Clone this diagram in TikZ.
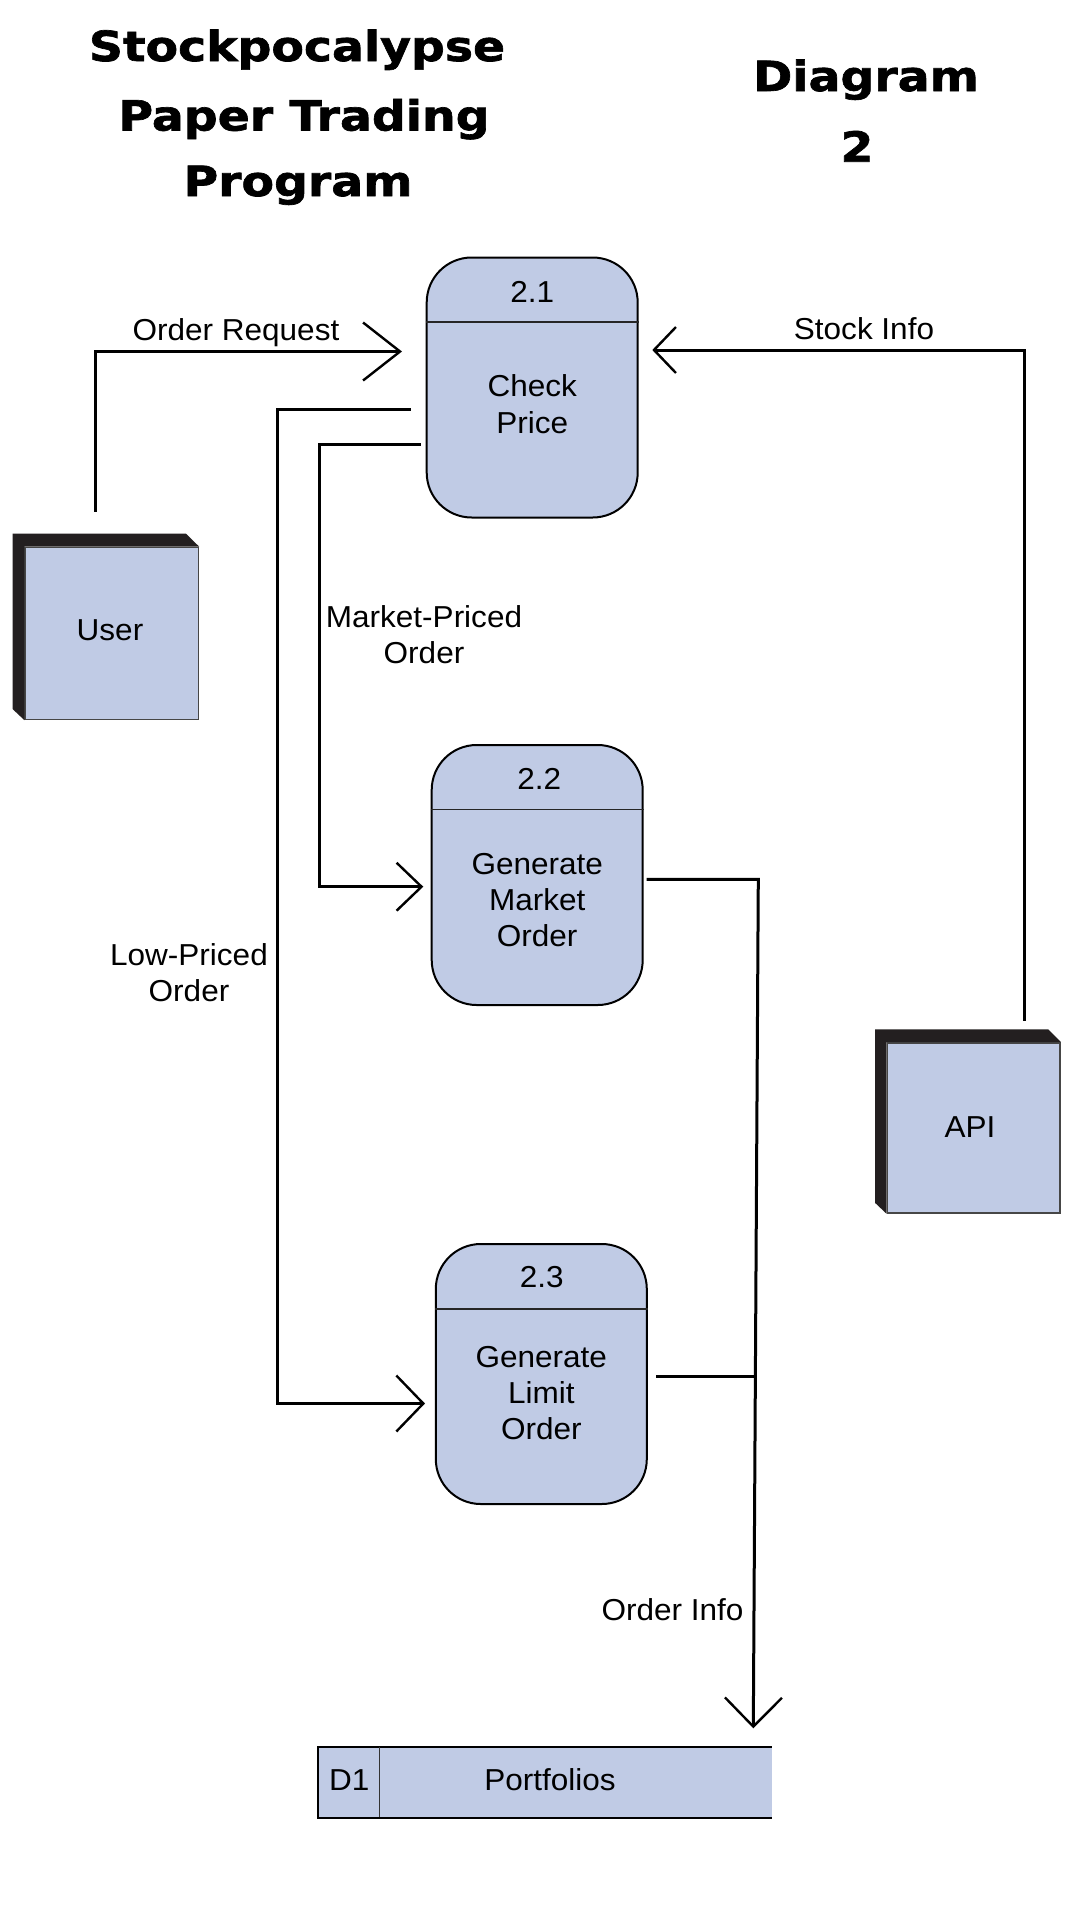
\documentclass[tikz,border=0pt]{standalone}
\usepackage{fontspec}
\setmainfont{Liberation Sans}[FakeStretch=1.04]
\newfontfamily\titlefont{DejaVu Sans Bold}[FakeStretch=1.14, FakeBold=1.6]
\usetikzlibrary{arrows.meta}
\definecolor{procfill}{RGB}{192,203,229}
\definecolor{extdark}{RGB}{35,31,32}
\definecolor{facebord}{RGB}{70,70,70}
\tikzset{
  txt/.style={inner sep=0pt, font=\fontsize{30.3}{36.3}\selectfont, align=center},
  ttl/.style={inner sep=0pt, anchor=base, font=\titlefont\fontsize{41.5}{48}\selectfont},
  proc/.style={draw=black, line width=2pt, fill=procfill, rounded corners=45pt,
    minimum width=211pt, minimum height=260pt, inner sep=0pt},
  divider/.style={line width=1.5pt, draw=black!85},
  extface/.style={draw=facebord, line width=1.5pt, fill=procfill, inner sep=0pt},
  flow/.style={line width=3pt, line join=miter},
}
\begin{document}
\begin{tikzpicture}[x=1pt,y=-1pt]
\useasboundingbox[fill=white] (0,0) rectangle (1080,1920);

% titles
\node[ttl] (t1) at (297,61) {Stockpocalypse};
\node[ttl] (t2) at (304,130.5) {Paper Trading};
\node[ttl] (t3) at (298,196) {Program};
\node[ttl] (t4) at (866,91) {Diagram};
\node[ttl] (t5) at (857,161.7) {2};

% processes
\node[proc] (p1) at (532.2,387.5) {};
\draw[divider] (p1.west |- 0,322) -- (p1.east |- 0,322);
\node[txt] (p1n) at (532.2,291.7) {2.1};
\node[txt] (p1t) at (532.2,404.2) {Check\\Price};

\node[proc] (p2) at (537.2,875) {};
\draw[divider] (p2.west |- 0,809.3) -- (p2.east |- 0,809.3);
\node[txt] (p2n) at (539.3,779.3) {2.2};
\node[txt] (p2t) at (537.2,900) {Generate\\Market\\Order};

\node[proc] (p3) at (541.3,1374) {};
\draw[divider] (p3.west |- 0,1309) -- (p3.east |- 0,1309);
\node[txt] (p3n) at (541.7,1276.7) {2.3};
\node[txt] (p3t) at (541.3,1393) {Generate\\Limit\\Order};

% external entities
\node[extface, minimum width=173.3pt, minimum height=172pt] (user) at (111.7,633.3) {};
\fill[extdark] ([xshift=-11.7pt,yshift=13pt]user.north west)
  -- ([xshift=-13.3pt,yshift=13pt]user.north east) -- (user.north east)
  -- (user.north west) -- (user.south west)
  -- ([xshift=-11.7pt,yshift=11pt]user.south west) -- cycle;
\node[txt, anchor=base] (usert) at (110,640.8) {User};

\node[extface, minimum width=172.7pt, minimum height=170.3pt] (api) at (973.7,1127.9) {};
\fill[extdark] ([xshift=-11.6pt,yshift=12.7pt]api.north west)
  -- ([xshift=-12.7pt,yshift=12.7pt]api.north east) -- (api.north east)
  -- (api.north west) -- (api.south west)
  -- ([xshift=-11.6pt,yshift=11pt]api.south west) -- cycle;
\node[txt, anchor=base] (apit) at (970,1137.5) {API};

% data store
\node[fill=procfill, minimum width=453.4pt, minimum height=70.6pt, inner sep=0pt] (d1) at (545,1782) {};
\draw[line width=2pt] (d1.north east) -- (d1.north west) -- (d1.south west) -- (d1.south east);
\draw[line width=1.4pt, draw=black!80] (379.3,1746.7) -- (379.3,1817.3);
\node[txt, anchor=base] (d1n) at (349.3,1790.8) {D1};
\node[txt, anchor=base] (d1t) at (550,1790.8) {Portfolios};

% connectors
\coordinate (orS) at (95.3,511.7);
\coordinate (orE) at (402,351.5);
\draw[flow, -{Straight Barb[length=37pt, width=58pt, line width=2.4pt]}] (orS) |- (orE);
\node[txt, anchor=base] (orL) at (236,340.8) {Order Request};

\coordinate (siS) at (1024.3,1020.7);
\coordinate (siE) at (652.3,350);
\draw[flow, -{Straight Barb[length=22pt, width=46pt, line width=2.4pt]}] (siS) |- (siE);
\node[txt, anchor=base] (siL) at (864,339.8) {Stock Info};

\coordinate (mpS) at (420.7,444.3);
\coordinate (mpC) at (319,444.3);
\coordinate (mpE) at (423.3,886.7);
\draw[flow, -{Straight Barb[length=25pt, width=48pt, line width=2.4pt]}] (mpS) -- (mpC) |- (mpE);
\node[txt] (mpL) at (424,635) {Market-Priced\\Order};

\coordinate (lpS) at (410.7,409);
\coordinate (lpC) at (277,409);
\coordinate (lpE) at (425,1403.5);
\draw[flow, -{Straight Barb[length=27pt, width=56pt, line width=2.4pt]}] (lpS) -- (lpC) |- (lpE);
\node[txt] (lpL) at (189,972.6) {Low-Priced\\Order};

\coordinate (oiS) at (646.7,879.3);
\coordinate (oiC) at (758.3,879.3);
\coordinate (oiE) at (753.3,1728.3);
\coordinate (oiJ) at (755.4,1376);
\coordinate (oi3) at (656,1376);
\draw[flow, -{Straight Barb[length=29pt, width=57pt, line width=2.4pt]}] (oiS) -- (oiC) -- (oiE);
\draw[flow] (oi3) -- (oiJ);
\node[txt, anchor=base] (oiL) at (672.5,1620.8) {Order Info};
\end{tikzpicture}
\end{document}
